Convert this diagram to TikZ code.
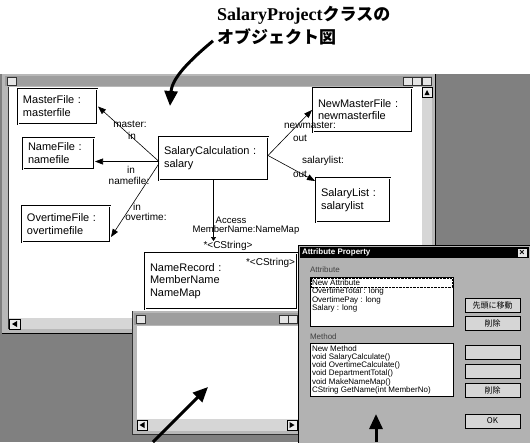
\documentclass[tikz,border=0pt]{standalone}
\usepackage{fontspec}
\setmainfont{Liberation Sans}
\newfontfamily\titleserif{Liberation Serif}
\newfontfamily\cjk{Noto Sans CJK JP}
\usetikzlibrary{arrows.meta,calc}
\begin{document}
\begin{tikzpicture}[x=1pt,y=-1pt,
  every node/.style={inner sep=0pt, outer sep=0pt},
  obj/.style={draw=black, double=white, double distance=1pt, line width=0.5pt, fill=white, align=left, inner xsep=5pt, font=\fontsize{11}{13}\selectfont, anchor=north west},
  lbl/.style={font=\fontsize{10}{11}\selectfont},
  conn/.style={line width=0.6pt, -{Triangle[length=8pt,width=6pt]}},
  bigarrow/.style={line width=3pt, -{Triangle[length=15pt,width=13pt]}},
  desk/.style={fill=black!50},
  btn/.style={draw=black, fill=black!16, minimum width=55pt, minimum height=14pt, font=\cjk\fontsize{8}{9}\selectfont, anchor=north west},
  listbox/.style={draw=black, fill=white, anchor=north west},
  item/.style={font=\fontsize{8}{9}\selectfont, anchor=west},
  wbtn/.style={draw=black!80, fill=black!10, minimum width=9pt, minimum height=8pt, anchor=north west},
]
\useasboundingbox (0,0) rectangle (530,442);
\fill[white] (0,0) rectangle (530,442);
\fill[desk] (0,74) rectangle (530,442);

% ---------- title ----------
\node[anchor=north west, align=left, font=\fontsize{17}{23}\selectfont] (title) at (217,6)
  {{\titleserif\bfseries\fontsize{18}{23}\selectfont SalaryProject}{\cjk\bfseries クラスの}\\{\cjk\bfseries オブジェクト図}};

% ---------- main window ----------
\fill[black!28] (2,74) rectangle (435,333);
\draw[black, line width=0.8pt] (435,74) -- (435,333) -- (2,333);
\fill[black!38] (5,76) rectangle (432,86);
\node[wbtn] (micon) at (7,77) {};
\node[wbtn] (mmin) at (403,77) {};
\node[wbtn] (mmax) at (412,77) {};
\node[wbtn] (mclose) at (422,77) {};
\fill[white] (8,87) rectangle (422,318);
\fill[black!16] (422,87) rectangle (432,318);
\draw[fill=black!8] (422,87) rectangle (432,97);
\fill (427,90) -- (424.5,95) -- (429.5,95) -- cycle;
\fill[black!16] (8,318) rectangle (422,329);
\draw[fill=black!8] (9,319) rectangle (20,329);
\fill (12,324) -- (17,321) -- (17,327) -- cycle;
\draw[black!80] (8,87) -- (8,329);

% ---------- objects ----------
\node[obj, text width=69pt, minimum height=35pt] (mf) at (18,89) {MasterFile :\\masterfile};
\node[obj, text width=61pt, minimum height=31pt] (nf) at (23,138) {NameFile :\\namefile};
\node[obj, text width=78pt, minimum height=36pt] (of) at (22,206) {OvertimeFile :\\overtimefile};
\node[obj, text width=99pt, minimum height=43pt] (sc) at (159,137) {SalaryCalculation :\\salary};
\node[obj, text width=89pt, minimum height=44pt, font=\fontsize{11}{12}\selectfont] (nmf) at (313,88) {NewMasterFile :\\newmasterfile\\[4pt]};
\node[obj, text width=64pt, minimum height=44pt] (sl) at (316,178) {SalaryList :\\salarylist};
\node[obj, text width=142pt, minimum height=56pt, font=\fontsize{11}{12.5}\selectfont] (nr) at (145,253) {NameRecord :\\MemberName\\NameMap};
\node[lbl, anchor=east] (nrs) at (295,263) {*<CString>};

% ---------- connectors ----------
\draw[conn] ([yshift=-3pt]sc.west) -- ([xshift=1pt]mf.east);
\draw[conn] ([yshift=-3pt]sc.west) -- ([xshift=1pt,yshift=-8pt]nf.east);
\draw[conn] ([yshift=-5pt]sc.west) -- ([xshift=1pt,yshift=-13pt]of.east);
\draw[conn] ([yshift=3pt]sc.east) -- ([xshift=-1pt]nmf.west);
\draw[conn] ([yshift=3pt]sc.east) -- ([xshift=-1pt,yshift=-3pt]sl.north west);
\coordinate (acc) at (213.5,241);
\draw[line width=0.6pt, -{Triangle[length=4pt,width=5pt]}] (sc.south) -- (acc);

\node[lbl] (l1) at (130,124) {master:};
\node[lbl] (l2) at (132,136) {in};
\node[lbl] (l3) at (131,170) {in};
\node[lbl] (l4) at (129,181) {namefile:};
\node[lbl] (l5) at (137,207) {in};
\node[lbl] (l6) at (146,217) {overtime:};
\node[lbl] (l7) at (310,125) {newmaster:};
\node[lbl] (l8) at (300,138) {out};
\node[lbl] (l9) at (323,161) {salarylist:};
\node[lbl] (l10) at (300,174) {out};
\node[lbl, font=\fontsize{9.5}{10}\selectfont] (l11) at (231,220) {Access};
\node[lbl, font=\fontsize{9.5}{10}\selectfont] (l12) at (246,230) {MemberName:NameMap};
\node[lbl] (l13) at (228,246) {*<CString>};

% ---------- title arrow ----------
\coordinate (a1tip) at (170,106);
\draw[bigarrow] ([xshift=-4pt,yshift=4pt]title.south west) .. controls (190,60) and (172,78) .. (a1tip);

% ---------- sub window ----------
\fill[black!28] (132,311) rectangle (300,434);
\draw[black!80] (132,311) -- (132,434) -- (300,434);
\fill[black!38] (134,313) rectangle (298,325);
\node[wbtn] (sicon) at (136,315) {};
\node[wbtn] (smin) at (279,315) {};
\node[wbtn] (smax) at (288,315) {};
\fill[white] (137,326) rectangle (298,419);
\fill[black!16] (137,419) rectangle (298,431);
\draw[fill=black!8] (137,420) rectangle (147,430);
\fill (139.5,425) -- (144.5,422) -- (144.5,428) -- cycle;
\draw[fill=black!8] (287,420) rectangle (297,430);
\fill (294.5,425) -- (289.5,422) -- (289.5,428) -- cycle;

% ---------- Attribute Property dialog ----------
\fill[black!30] (298,245) rectangle (531,443);
\draw[black] (298,443) -- (298,245) -- (531,245);
\fill[black] (300,247) rectangle (529,258);
\node[font=\bfseries\fontsize{8}{9}\selectfont, text=white, anchor=west] (dlgt) at (302,252.5) {Attribute Property};
\node[draw=black, fill=black!10, minimum width=10pt, minimum height=9pt, font=\bfseries\fontsize{9}{9}\selectfont] (dlgx) at (522,252.5) {×};

\node[item, text=black!75] (attl) at (310,270) {Attribute};
\node[listbox, minimum width=143pt, minimum height=49pt] (attbox) at (310,277) {};
\draw[densely dotted] (311,278.5) rectangle (452,287.5);
\node[item] (at1) at (312,283) {New Attribute};
\node[item] (at2) at (312,291.5) {OvertimeTotal : long};
\node[item] (at3) at (312,300) {OvertimePay : long};
\node[item] (at4) at (312,308.5) {Salary : long};
\node[btn] (b1) at (465,298) {先頭に移動};
\node[btn] (b2) at (465,316) {削除};

\node[item, text=black!75] (metl) at (310,337) {Method};
\node[listbox, minimum width=143pt, minimum height=53pt] (metbox) at (310,343) {};
\node[item] (m1) at (312,349) {New Method};
\node[item] (m2) at (312,357.3) {void SalaryCalculate()};
\node[item] (m3) at (312,365.6) {void OvertimeCalculate()};
\node[item] (m4) at (312,373.9) {void DepartmentTotal()};
\node[item] (m5) at (312,382.2) {void MakeNameMap()};
\node[item] (m6) at (312,390.5) {CString GetName(int MemberNo)};
\node[btn] (b3) at (465,345) {};
\node[btn] (b4) at (465,364) {};
\node[btn] (b5) at (465,383) {削除};
\node[btn] (b6) at (465,414) {OK};

% ---------- bottom arrows ----------
\coordinate (a2tail) at (153,442);
\coordinate (a2tip) at (208,387);
\draw[bigarrow] (a2tail) -- (a2tip);
\coordinate (a3tail) at (376,442);
\coordinate (a3tip) at (376,414);
\draw[bigarrow] (a3tail) -- (a3tip);
\end{tikzpicture}
\end{document}
